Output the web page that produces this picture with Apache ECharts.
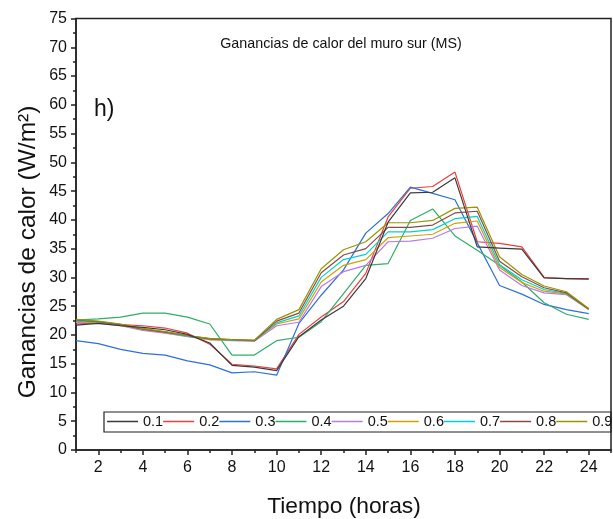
<!DOCTYPE html>
<html>
<head>
<meta charset="utf-8">
<script src="https://cdn.jsdelivr.net/npm/echarts@6/dist/echarts.min.js"></script>
<style>html,body{margin:0;padding:0;background:#fff}#c{width:613px;height:519px}</style>
</head>
<body>
<div id="c"></div>
<script>
const hours = [1,2,3,4,5,6,7,8,9,10,11,12,13,14,15,16,17,18,19,20,21,22,23,24];
const seriesNames = ['0.1','0.2','0.3','0.4','0.5','0.6','0.7','0.8','0.9'];
const s01 = [21.7,22.0,21.6,21.3,20.9,20.1,18.6,14.7,14.4,13.8,19.7,22.6,25.0,29.8,39.6,44.7,44.8,47.3,35.3,35.1,34.9,29.9,29.8,29.7];
const s02 = [21.9,22.1,21.8,21.6,21.2,20.3,18.4,14.9,14.6,14.1,20.1,23.1,25.8,30.7,40.5,45.5,45.8,48.3,36.2,35.9,35.3,30.0,29.8,29.8];
const s03 = [19.0,18.5,17.5,16.8,16.5,15.5,14.8,13.4,13.6,13.0,22.0,26.9,31.3,37.7,41.1,45.7,44.6,43.5,36.0,28.6,27.1,25.3,24.4,23.7];
const s04 = [22.6,22.8,23.1,23.8,23.8,23.1,21.9,16.5,16.5,19.0,19.6,22.3,27.2,32.1,32.4,39.9,41.9,37.2,34.7,32.1,29.2,25.6,23.6,22.7];
const s05 = [22.2,22.0,21.6,20.8,20.3,19.7,19.2,19.0,18.9,21.6,22.2,28.4,31.0,32.1,36.2,36.3,36.8,38.5,38.9,31.3,28.6,27.3,27.0,24.4];
const s06 = [22.4,22.1,21.7,20.9,20.4,19.8,19.2,19.1,19.0,21.9,22.8,29.2,32.1,33.1,36.9,37.2,37.5,39.4,39.8,31.7,29.1,27.6,27.1,24.4];
const s07 = [22.5,22.2,21.8,21.0,20.5,19.8,19.3,19.1,19.0,22.1,23.3,30.0,33.1,34.0,37.9,37.9,38.3,40.2,40.6,32.2,29.6,27.9,27.2,24.5];
const s08 = [22.6,22.3,21.8,21.0,20.5,19.9,19.3,19.2,19.0,22.4,23.8,30.8,33.9,35.0,38.7,38.7,39.1,41.2,41.5,32.8,30.1,28.2,27.3,24.5];
const s09 = [22.7,22.4,21.9,21.1,20.6,19.9,19.4,19.2,19.1,22.7,24.4,31.5,34.8,36.2,39.5,39.5,39.9,42.0,42.2,33.6,30.5,28.5,27.5,24.6];
const xMajorTicks = [2,4,6,8,10,12,14,16,18,20,22,24];
const xMinorTicks = [1,3,5,7,9,11,13,15,17,19,21,23,25];

const allData = [s01,s02,s03,s04,s05,s06,s07,s08,s09];
const colors = ['#3a3a3a','#f03c3c','#2d6fdc','#2fae68','#b878f0','#d4a000','#00d0d0','#8a4a46','#9a9400'];
const FONT = 'Liberation Sans, Arial, sans-serif';

const chart = echarts.init(document.getElementById('c'), null, {renderer:'canvas'});
const series = seriesNames.map((n,i)=>({
  name:n, type:'line', xAxisIndex:0, yAxisIndex:0,
  data: hours.map((h,j)=>[h, allData[i][j]]),
  showSymbol:false, symbol:'none',
  lineStyle:{color:colors[i], width:1.2},
  itemStyle:{color:colors[i]},
  z: 2 + (i===0?9:0)
}));

chart.setOption({
  animation:false,
  backgroundColor:'#fff',
  grid:{left:76, right:2, top:18.5, bottom:69, show:true, borderColor:'#222', borderWidth:1.5, backgroundColor:'transparent'},
  xAxis:[{
    type:'value', min:1, max:25, interval:1,
    axisLine:{show:true, lineStyle:{color:'#222', width:1.5}},
    axisTick:{show:true, customValues:xMajorTicks, length:5, lineStyle:{color:'#222', width:1.5}},
    axisLabel:{customValues:xMajorTicks, color:'#111', fontSize:16, fontFamily:FONT, margin:10},
    splitLine:{show:false}
  },{
    type:'value', min:1, max:25, interval:1, position:'bottom',
    axisLine:{show:false},
    axisTick:{show:true, customValues:xMinorTicks, length:3, lineStyle:{color:'#222', width:1.5}},
    axisLabel:{show:false},
    splitLine:{show:false}
  }],
  yAxis:[{
    type:'value', min:0, max:75, interval:5,
    axisLine:{show:true, lineStyle:{color:'#222', width:1.5}},
    axisTick:{show:true, length:5, lineStyle:{color:'#222', width:1.5}},
    minorTick:{show:true, splitNumber:2, length:3, lineStyle:{color:'#222', width:1.5}},
    axisLabel:{color:'#111', fontSize:16, fontFamily:FONT, margin:9},
    splitLine:{show:false}
  }],
  legend:{
    data:seriesNames, left:107, top:414, width:560, orient:'horizontal',
    icon:'rect', itemWidth:31, itemHeight:1.5, itemGap:0, padding:0,
    textStyle:{fontSize:14.5, fontFamily:FONT, color:'#111', padding:[0,0,0,0]}
  },
  graphic:[
    {type:'rect', shape:{x:104, y:412, width:507, height:20}, style:{fill:'none', stroke:'#222', lineWidth:1.2}, z:5},
    {type:'text', x:341, y:44, style:{text:'Ganancias de calor del muro sur (MS)', font:'14.3px '+FONT, fill:'#111', textAlign:'center', textVerticalAlign:'middle'}},
    {type:'text', x:94, y:110, style:{text:'h)', font:'23px '+FONT, fill:'#111', textAlign:'left', textVerticalAlign:'middle'}},
    {type:'text', x:28, y:252, rotation:Math.PI/2, style:{text:'Ganancias de calor (W/m²)', font:'24.5px '+FONT, fill:'#111', textAlign:'center', textVerticalAlign:'middle'}},
    {type:'text', x:344, y:507, style:{text:'Tiempo (horas)', font:'22.8px '+FONT, fill:'#111', textAlign:'center', textVerticalAlign:'middle'}}
  ],
  series:series
});
</script>
</body>
</html>
